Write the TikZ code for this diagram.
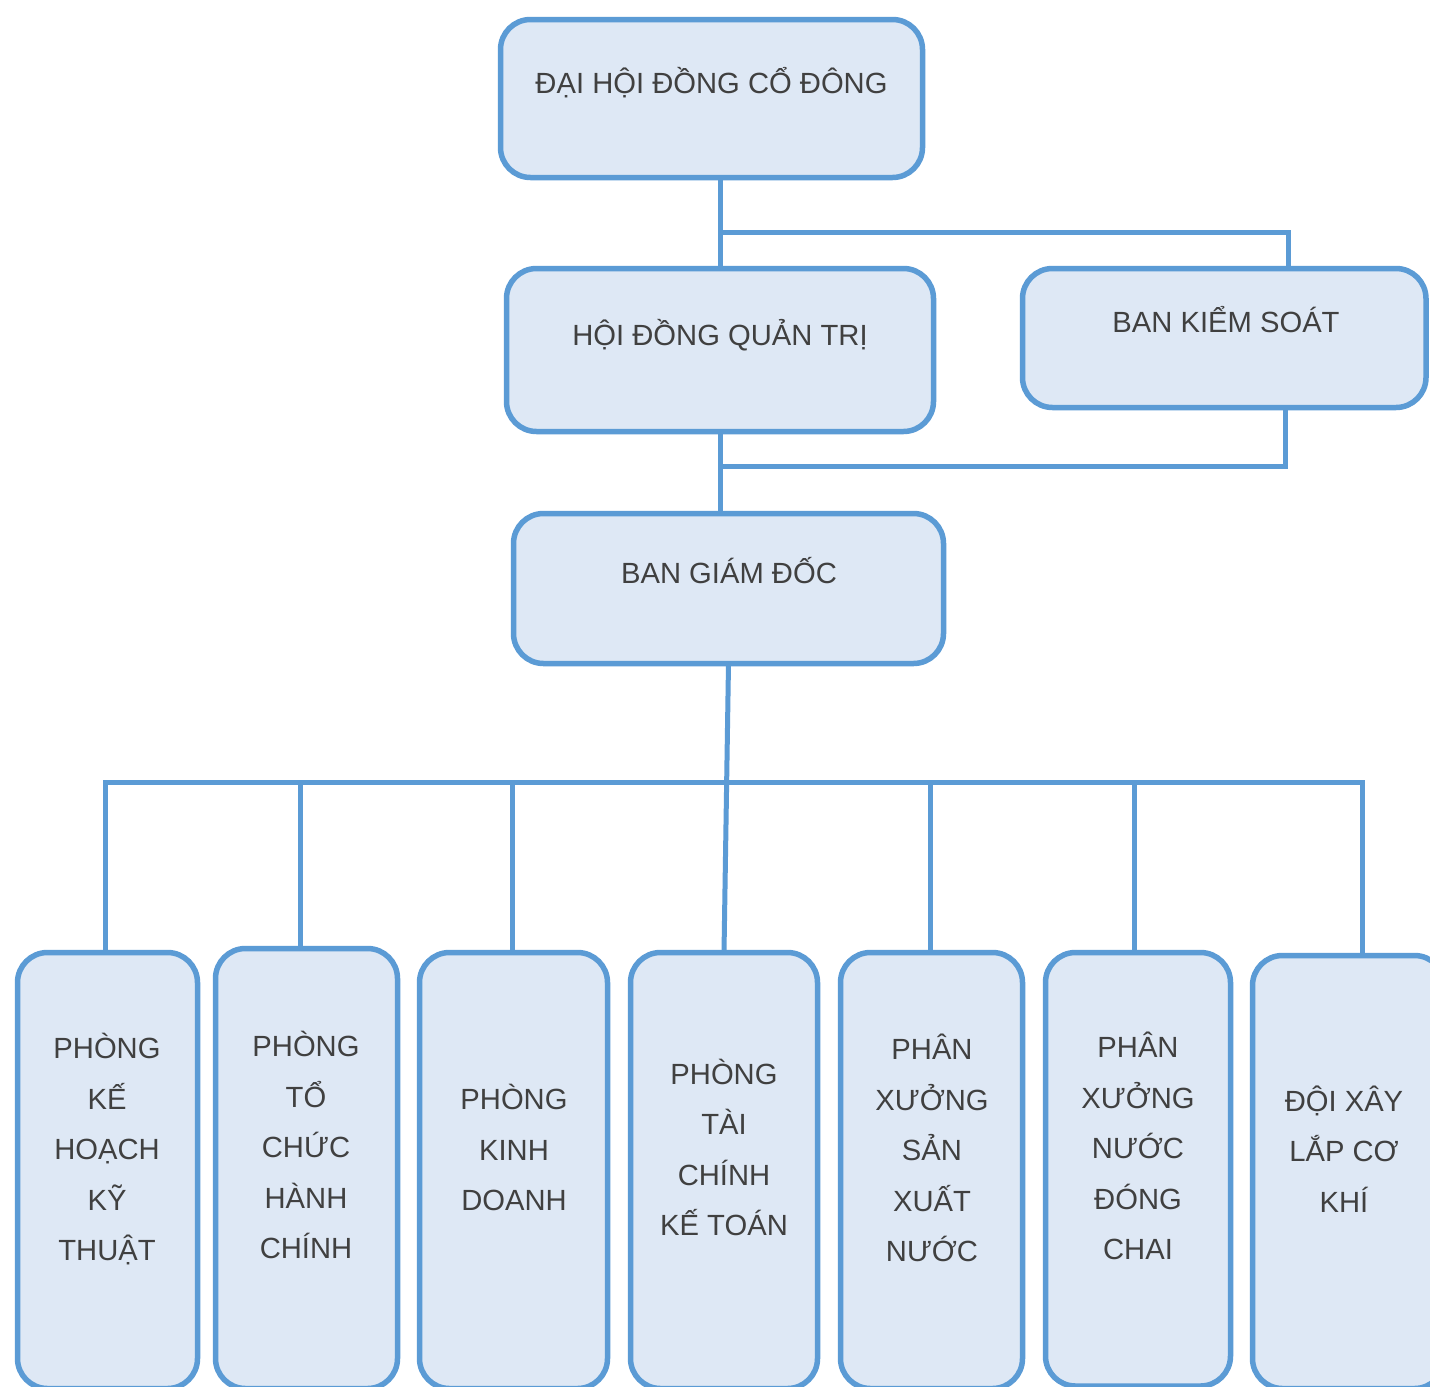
\documentclass[tikz,border=0pt]{standalone}
\usepackage{fontspec}
\setmainfont{Liberation Sans}
\definecolor{bord}{HTML}{5B9BD5}
\definecolor{boxfill}{HTML}{DEE8F5}
\definecolor{txt}{HTML}{404040}
\begin{document}
\begin{tikzpicture}[x=1pt,y=-1pt,
  box/.style={draw=bord, fill=boxfill, line width=5.5pt, rounded corners=30pt, inner sep=0pt, outer sep=0pt},
  lbl/.style={text=txt, font=\fontsize{29.2}{50.5}\selectfont, align=center, inner sep=0pt},
  conn/.style={draw=bord, line width=5pt}]
\useasboundingbox[fill=white] (0,0) rectangle (1430,1387);
\clip (0,0) rectangle (1430,1387);
% upper boxes
\node[box, minimum width=422pt, minimum height=158pt] (dh) at (711.5,98.5) {};
\node[box, minimum width=427pt, minimum height=163pt] (hd) at (720,350) {};
\node[box, minimum width=403.5pt, minimum height=139pt] (bks) at (1224.25,338) {};
\node[box, minimum width=430pt, minimum height=150pt] (bgd) at (728.5,588.5) {};
% lower boxes
\node[box, minimum width=180pt, minimum height=436pt] (b1) at (107.5,1170.5) {};
\node[box, minimum width=182pt, minimum height=440pt] (b2) at (306.5,1168.5) {};
\node[box, minimum width=188pt, minimum height=436pt] (b3) at (513.5,1170.5) {};
\node[box, minimum width=187pt, minimum height=436pt] (b4) at (724,1170.5) {};
\node[box, minimum width=182pt, minimum height=436pt] (b5) at (931.5,1170.5) {};
\node[box, minimum width=185pt, minimum height=433.5pt] (b6) at (1138,1169.25) {};
\node[box, minimum width=192pt, minimum height=433pt] (b7) at (1348.5,1172) {};
% connectors
\coordinate (j1) at (720,232);
\coordinate (k1) at (1288,232);
\coordinate (j2) at (720,466);
\coordinate (k2) at (1285,466);
\draw[conn] (dh.south -| hd.north) -- (hd.north);
\draw[conn] (j1) -- (k1) -- (k1 |- bks.north);
\draw[conn] (hd.south) -- (hd.south |- bgd.north);
\draw[conn] (j2) -- (k2) -- (k2 |- bks.south);
\draw[conn] (bgd.south) -- (b4.north);
\coordinate (bl) at (105,782);
\coordinate (br) at (1362,782);
\coordinate (d2) at (300,782);
\coordinate (d3) at (512,782);
\coordinate (d5) at (930,782);
\coordinate (d6) at (1134,782);
\draw[conn] (bl |- b1.north) -- (bl) -- (br) -- (br |- b7.north);
\draw[conn] (d2) -- (d2 |- b2.north);
\draw[conn] (d3) -- (d3 |- b3.north);
\draw[conn] (d5) -- (d5 |- b5.north);
\draw[conn] (d6) -- (d6 |- b6.north);
% labels
\node[lbl, anchor=base] (tdh) at (711.5,93.5) {ĐẠI HỘI ĐỒNG CỔ ĐÔNG};
\node[lbl, anchor=base] (thd) at (720,345) {HỘI ĐỒNG QUẢN TRỊ};
\node[lbl, anchor=base] (tbks) at (1226,332) {BAN KIỂM SOÁT};
\node[lbl, anchor=base] (tbgd) at (729,583) {BAN GIÁM ĐỐC};
\node[lbl] (t1) at (107,1149.5) {PHÒNG\\KẾ\\HOẠCH\\KỸ\\THUẬT};
\node[lbl] (t2) at (306,1145) {PHÒNG\\TỔ\\CHỨC\\HÀNH\\CHÍNH};
\node[lbl] (t3) at (514,1147.5) {PHÒNG\\KINH\\DOANH};
\node[lbl] (t4) at (724,1147.5) {PHÒNG\\TÀI\\CHÍNH\\KẾ TOÁN};
\node[lbl] (t5) at (932,1148) {PHÂN\\XƯỞNG\\SẢN\\XUẤT\\NƯỚC};
\node[lbl] (t6) at (1138,1146) {PHÂN\\XƯỞNG\\NƯỚC\\ĐÓNG\\CHAI};
\node[lbl] (t7) at (1344,1149) {ĐỘI XÂY\\LẮP CƠ\\KHÍ};
\end{tikzpicture}
\end{document}
